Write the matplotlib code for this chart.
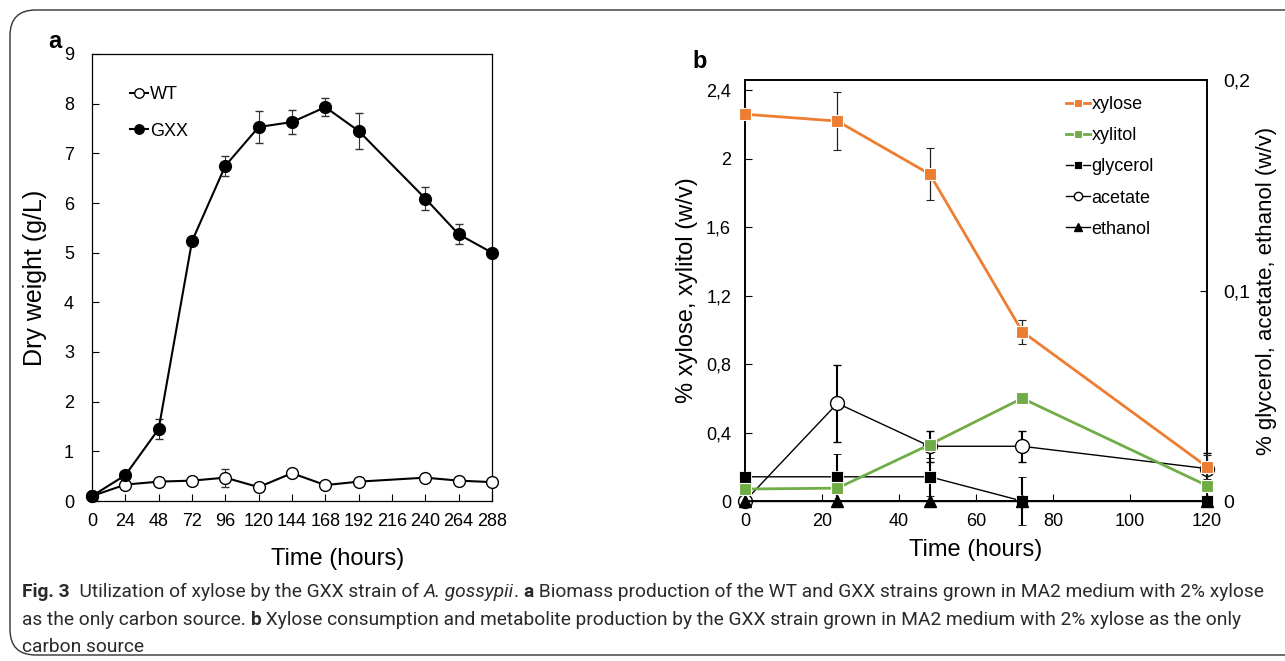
import matplotlib
matplotlib.use("Agg")
import matplotlib.pyplot as plt
from matplotlib.patches import FancyBboxPatch
from matplotlib.ticker import FuncFormatter

plt.rcParams['font.family'] = ['Liberation Sans', 'DejaVu Sans']

# panel a: dry weight
hours_a = [0, 24, 48, 72, 96, 120, 144, 168, 192, 240, 264, 288]
wt = [0.10, 0.33, 0.39, 0.41, 0.47, 0.28, 0.56, 0.32, 0.39, 0.47, 0.41, 0.38]
wt_err = [0, 0, 0, 0, 0.18, 0, 0, 0, 0, 0, 0, 0]
gxx = [0.10, 0.52, 1.45, 5.23, 6.75, 7.53, 7.63, 7.93, 7.45, 6.09, 5.37, 5.00]
gxx_err = [0, 0, 0.20, 0, 0.20, 0.32, 0.24, 0.18, 0.37, 0.24, 0.20, 0]

# panel b: metabolites
hours_b = [0, 24, 48, 72, 120]
xylose = [2.26, 2.22, 1.91, 0.99, 0.20]
xylose_err = [0, 0.17, 0.15, 0.07, 0.07]
xylitol = [0.07, 0.075, 0.33, 0.60, 0.09]
xylitol_err = [0, 0, 0.02, 0.03, 0.02]
glycerol = [0.0115, 0.0115, 0.0115, 0.0, 0.0]
glycerol_err = [0, 0.011, 0.009, 0.0115, 0]
acetate = [0.0, 0.0464, 0.026, 0.026, 0.0154]
acetate_err = [0, 0.0183, 0.0073, 0.0073, 0.0075]
ethanol = [0, 0, 0, 0, 0]

orange = '#ED7D31'
green = '#70AD47'

fig = plt.figure(figsize=(12.85, 6.61), dpi=100)

# rounded frame round the figure
frame = FancyBboxPatch((10 / 1285, 6 / 661), 1.2, 645 / 661, boxstyle="round,pad=0,rounding_size=0.02",
                       transform=fig.transFigure, fill=False, lw=1.0, ec='#333333', mutation_aspect=1285 / 661)
fig.patches.append(frame)

comma = FuncFormatter(lambda v, p: ('%g' % round(v, 2)).replace('.', ','))

# ---- panel a
ax1 = fig.add_axes([92 / 1285, 1 - 501 / 661, 400 / 1285, 447 / 661])
e1 = ax1.errorbar(hours_a, wt, yerr=wt_err, fmt='-o', color='black', mfc='white', mec='black',
                  ms=8.5, lw=1.5, capsize=3, elinewidth=0.8, ecolor='#333333', clip_on=False, zorder=3)
e2 = ax1.errorbar(hours_a, gxx, yerr=gxx_err, fmt='-o', color='black', mfc='black', mec='black',
                  ms=8.5, lw=1.5, capsize=3, elinewidth=0.8, ecolor='#333333', clip_on=False, zorder=4)
ax1.set_xlim(0, 288)
ax1.set_ylim(0, 9)
ax1.set_xticks(range(0, 289, 24))
ax1.set_yticks(range(0, 10))
ax1.tick_params(direction='in', length=5, labelsize=13, width=0.8)
ax1.tick_params(axis='y', pad=13)
ax1.tick_params(axis='x', pad=9)
ax1.set_xlabel('Time (hours)', fontsize=17)
ax1.xaxis.set_label_coords(0.615, -0.105)
ax1.set_ylabel('Dry weight (g/L)', fontsize=18, labelpad=12)
for s in ax1.spines.values():
    s.set_linewidth(0.9)
ax1.legend([e1.lines[0], e2.lines[0]], ['WT', 'GXX'], loc='upper left', bbox_to_anchor=(0.055, 0.965),
           frameon=False, fontsize=13, handlelength=1.0, handletextpad=0.1, labelspacing=1.1, markerscale=0.8)
fig.text(48 / 1285, 1 - 42 / 661, 'a', fontsize=17, fontweight='bold', va='center')

# ---- panel b
ax2 = fig.add_axes([745 / 1285, 1 - 501 / 661, 462 / 1285, 421 / 661])
ax3 = ax2.twinx()
b1 = ax2.errorbar(hours_b, xylose, yerr=xylose_err, fmt='-s', color=orange, mfc=orange, mec='white', mew=0.8,
                  ms=9, lw=2, capsize=3, elinewidth=0.9, ecolor='#222222', clip_on=False, zorder=5)
b2 = ax2.errorbar(hours_b, xylitol, yerr=xylitol_err, fmt='-s', color=green, mfc=green, mec='white', mew=0.8,
                  ms=9, lw=2, capsize=3, elinewidth=0.9, ecolor='#222222', clip_on=False, zorder=5)
b3 = ax3.errorbar(hours_b, glycerol, yerr=glycerol_err, fmt='-s', color='black', mfc='black', mec='white', mew=0.6,
                  ms=9, lw=1, capsize=3, elinewidth=1.5, ecolor='black', clip_on=False, zorder=4)
b4 = ax3.errorbar(hours_b, acetate, yerr=acetate_err, fmt='-o', color='black', mfc='white', mec='black',
                  ms=10, lw=1, capsize=3, elinewidth=1.5, ecolor='black', clip_on=False, zorder=4)
b5, = ax3.plot(hours_b, ethanol, '-^', color='black', ms=9, lw=1, clip_on=False, zorder=6)
ax2.set_zorder(ax3.get_zorder() + 1)
ax2.patch.set_visible(False)

ax2.set_xlim(0, 120)
ax2.set_ylim(0, 2.46)
ax3.set_ylim(0, 0.2)
ax2.set_xticks([0, 20, 40, 60, 80, 100, 120])
ax2.set_yticks([0, 0.4, 0.8, 1.2, 1.6, 2.0, 2.4])
ax3.set_yticks([0, 0.1, 0.2])
ax2.yaxis.set_major_formatter(comma)
ax3.yaxis.set_major_formatter(comma)
ax2.tick_params(direction='in', length=5, labelsize=13, width=0.8)
ax3.tick_params(direction='in', length=5, labelsize=14, width=0.8, pad=12)
ax2.tick_params(axis='y', pad=10)
ax2.tick_params(axis='x', pad=9)
ax2.set_xlabel('Time (hours)', fontsize=17, labelpad=6)
ax2.set_ylabel('% xylose, xylitol (w/v)', fontsize=17, labelpad=6)
ax3.set_ylabel('% glycerol, acetate, ethanol (w/v)', fontsize=16, labelpad=4)
for a in (ax2, ax3):
    for s in a.spines.values():
        s.set_linewidth(1.2)
ax2.legend([b1.lines[0], b2.lines[0], b3.lines[0], b4.lines[0], b5],
           ['xylose', 'xylitol', 'glycerol', 'acetate', 'ethanol'],
           loc='upper left', bbox_to_anchor=(0.66, 1.0), frameon=False, fontsize=13,
           handlelength=1.3, handletextpad=0.1, labelspacing=0.78, markerscale=0.6)
fig.text(692 / 1285, 1 - 62 / 661, 'b', fontsize=17, fontweight='bold', va='center')

# ---- caption with mixed styles, font size fitted to the line width
cap_lines = [
    [('Fig. 3', 'bold', 'normal'), ('  Utilization of xylose by the GXX strain of ', 'normal', 'normal'),
     ('A. gossypii', 'normal', 'italic'), ('. ', 'normal', 'normal'), ('a', 'bold', 'normal'),
     (' Biomass production of the WT and GXX strains grown in MA2 medium with 2% xylose', 'normal', 'normal')],
    [('as the only carbon source. ', 'normal', 'normal'), ('b', 'bold', 'normal'),
     (' Xylose consumption and metabolite production by the GXX strain grown in MA2 medium with 2% xylose as the only',
      'normal', 'normal')],
    [('carbon source', 'normal', 'normal')],
]
cap_y = [592, 620, 647]
fig.canvas.draw()
renderer = fig.canvas.get_renderer()


def draw_line(line, yy, size):
    x = 22
    made = []
    for txt, wgt, sty in line:
        t = fig.text(x / 1285, 1 - yy / 661, txt, fontsize=size, fontweight=wgt, fontstyle=sty,
                     family='Roboto', color='#2a2a2a', va='center', ha='left')
        x += t.get_window_extent(renderer).width
        made.append(t)
    return made, x


probe, end = draw_line(cap_lines[0], cap_y[0], 13)
for t in probe:
    t.remove()
size = 13 * (1262 - 22) / (end - 22)
for line, yy in zip(cap_lines, cap_y):
    draw_line(line, yy, size)

fig.savefig('out.png', dpi=100)
